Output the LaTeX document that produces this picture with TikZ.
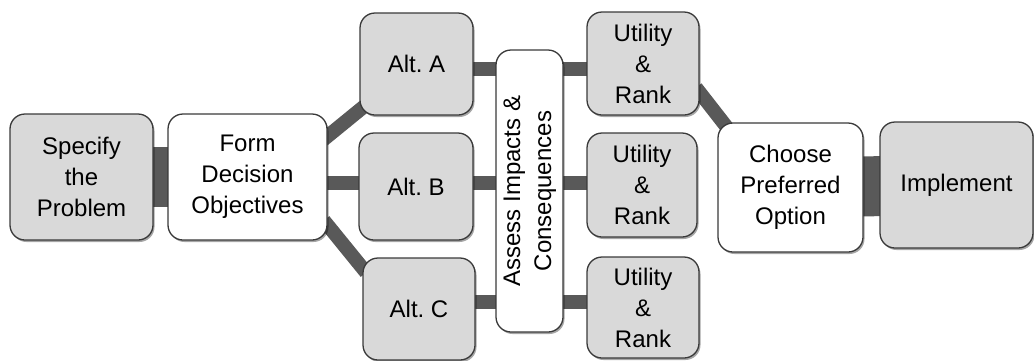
\documentclass[tikz,border=0pt]{standalone}
\usepackage{fontspec}
\setmainfont{Liberation Sans}
\usetikzlibrary{shadows,backgrounds}
\definecolor{boxgray}{HTML}{D9D9D9}
\definecolor{linkgray}{HTML}{595959}
\definecolor{edgegray}{HTML}{3A3A3A}
\frenchspacing

\begin{document}
\begin{tikzpicture}[x=1pt,y=-1pt,
    block/.style={draw=edgegray, line width=1.3pt, rounded corners=15pt,
      align=center, inner sep=2pt, font=\fontsize{24}{31}\selectfont,
      drop shadow={shadow xshift=1.5pt, shadow yshift=-2pt, opacity=0.35, fill=black}},
    grayblock/.style={block, fill=boxgray},
    whiteblock/.style={block, fill=white},
    link/.style={draw=linkgray, line width=14pt},
    wide link/.style={draw=linkgray, line width=60pt}]
  \useasboundingbox (0,0) rectangle (1034,360);
  % Start of the chain
  \node[grayblock, minimum width=143pt, minimum height=126pt] (specify) at (81.5,177) {Specify\\the\\Problem};
  \node[whiteblock, minimum width=159pt, minimum height=126pt] (form) at (247.5,177) {Form\\Decision\\Objectives};
  % Alternatives
  \node[grayblock, minimum width=113pt, minimum height=102pt] (altA) at (416.5,64) {Alt. A};
  \node[grayblock, minimum width=114pt, minimum height=107pt] (altB) at (416,186.5) {Alt. B};
  \node[grayblock, minimum width=112pt, minimum height=102pt] (altC) at (419,309) {Alt. C};
  % Assessment column
  \node[whiteblock, minimum width=67pt, minimum height=282pt] (assess) at (529.5,191)
    {\rotatebox{90}{\begin{tabular}{@{}c@{}}Assess Impacts \&\\Consequences\end{tabular}}};
  % Ranking of each alternative
  \node[grayblock, minimum width=112pt, minimum height=103pt] (rankA) at (643,63.5) {Utility\\\&\\Rank};
  \node[grayblock, minimum width=110pt, minimum height=104pt] (rankB) at (642,185) {Utility\\\&\\Rank};
  \node[grayblock, minimum width=112pt, minimum height=101pt] (rankC) at (643,307.5) {Utility\\\&\\Rank};
  % End of the chain
  \node[whiteblock, minimum width=145pt, minimum height=129pt] (choose) at (790.5,187.5) {Choose\\Preferred\\Option};
  \node[grayblock, minimum width=153pt, minimum height=126pt] (implement) at (956.5,185) {Implement};
  % Connectors behind the boxes
  \begin{scope}[on background layer]
    \draw[wide link] (specify.center) -- (form.center);
    \draw[wide link] (choose.center) -- (implement.center);
    \draw[link, shorten <=-6pt, shorten >=-6pt] (form.27) -- (altA.219);
    \draw[link, shorten <=-6pt, shorten >=-6pt] (form.-31) -- (altC.144);
    \draw[link] ([yshift=-5pt]altA.center) -- ([yshift=-5.5pt]rankA.center);
    \draw[link] ([yshift=-6pt]form.center) -- ([yshift=2pt]rankB.center);
    \draw[link] ([yshift=7pt]altC.center) -- ([yshift=5.5pt]rankC.center);
    \draw[link, shorten <=-6pt, shorten >=-6pt] (rankA.-27) -- (choose.136);
  \end{scope}
\end{tikzpicture}
\end{document}
